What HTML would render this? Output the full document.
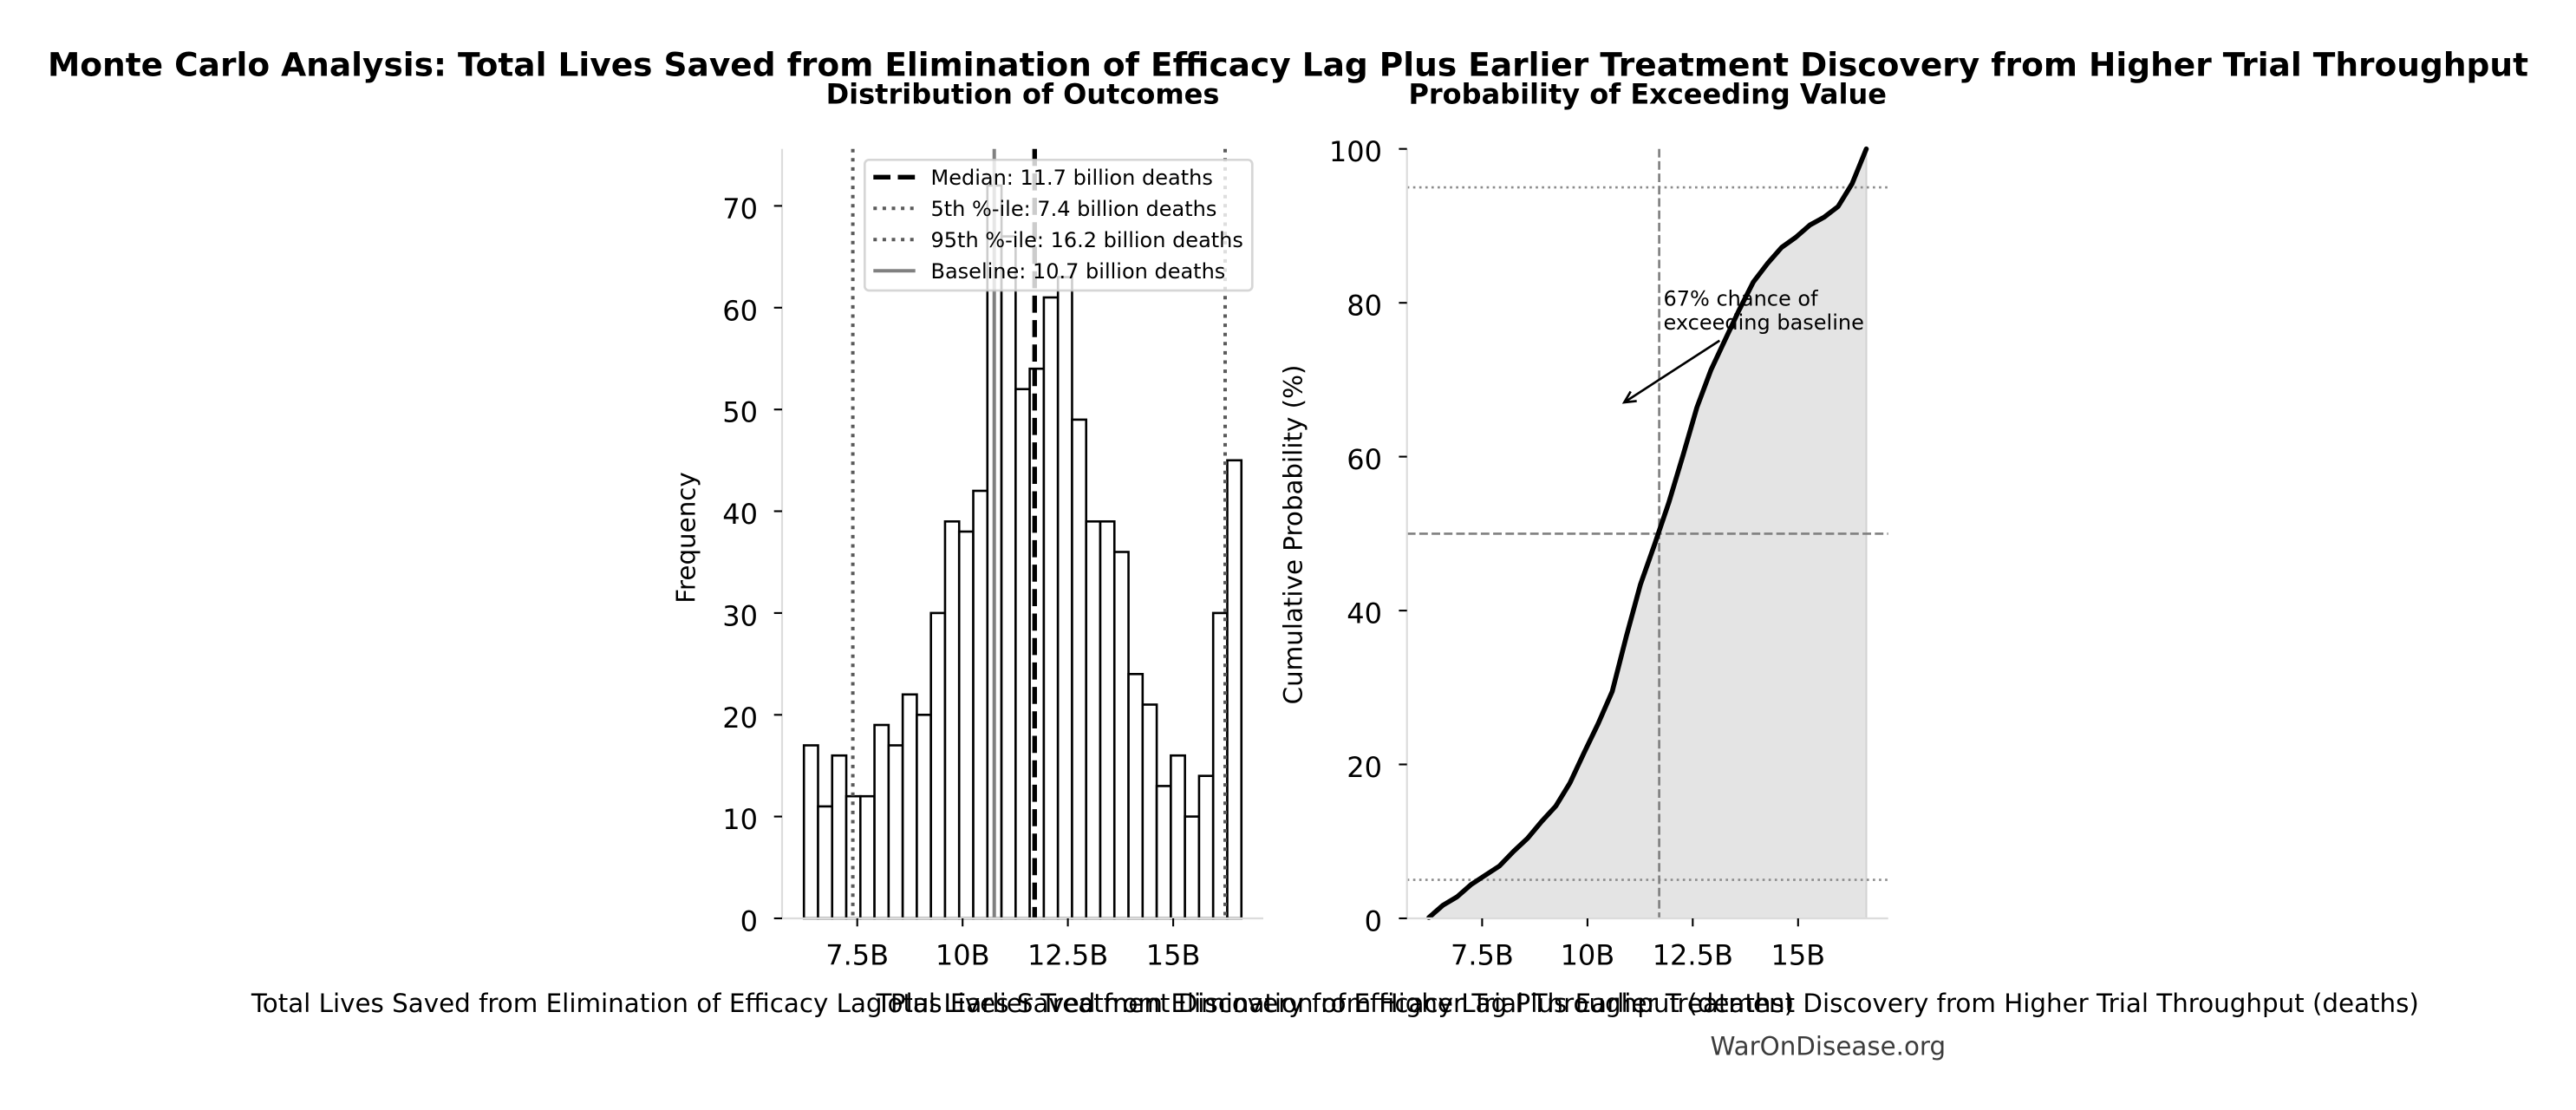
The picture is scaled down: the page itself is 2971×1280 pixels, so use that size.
<!DOCTYPE html>
<html>
<head>
<meta charset="utf-8">
<style>
  html, body { margin: 0; padding: 0; background: #ffffff; }
  svg { display: block; }
  text { font-family: "DejaVu Sans", "Liberation Sans", sans-serif; fill: #000; }
  .tick { font-size: 32px; }
  .lab { font-size: 29.33px; }
  .leg { font-size: 24px; }
  .ttl { font-size: 32px; font-weight: bold; }
</style>
</head>
<body>
<svg width="2971" height="1280" viewBox="0 0 2971 1280" xmlns="http://www.w3.org/2000/svg">
  <rect x="0" y="0" width="2971" height="1280" fill="#ffffff"/>

  <!-- Suptitle -->
  <text x="1485.5" y="87.5" text-anchor="middle" style="font-size:37.5px;font-weight:bold;">Monte Carlo Analysis: Total Lives Saved from Elimination of Efficacy Lag Plus Earlier Treatment Discovery from Higher Trial Throughput</text>

  <!-- Subplot titles -->
  <text class="ttl" x="1179.5" y="119.3" text-anchor="middle">Distribution of Outcomes</text>
  <text class="ttl" x="1900.2" y="119.3" text-anchor="middle">Probability of Exceeding Value</text>

  <!-- ================= LEFT AXES (histogram) ================= -->
  <g stroke="#000" stroke-width="2.6" fill="#ffffff">
    <rect x="927.20" y="859.5" width="16.28" height="199.5"/>
    <rect x="943.48" y="929.9" width="16.28" height="129.1"/>
    <rect x="959.75" y="871.2" width="16.28" height="187.8"/>
    <rect x="976.03" y="918.2" width="16.28" height="140.8"/>
    <rect x="992.30" y="918.2" width="16.28" height="140.8"/>
    <rect x="1008.58" y="836.0" width="16.28" height="223.0"/>
    <rect x="1024.86" y="859.5" width="16.28" height="199.5"/>
    <rect x="1041.13" y="800.8" width="16.28" height="258.2"/>
    <rect x="1057.41" y="824.3" width="16.28" height="234.7"/>
    <rect x="1073.68" y="706.9" width="16.28" height="352.1"/>
    <rect x="1089.96" y="601.3" width="16.28" height="457.7"/>
    <rect x="1106.24" y="613.0" width="16.28" height="446.0"/>
    <rect x="1122.51" y="566.0" width="16.28" height="493.0"/>
    <rect x="1138.79" y="213.9" width="16.28" height="845.1"/>
    <rect x="1155.06" y="272.6" width="16.28" height="786.4"/>
    <rect x="1171.34" y="448.7" width="16.28" height="610.3"/>
    <rect x="1187.62" y="425.2" width="16.28" height="633.8"/>
    <rect x="1203.89" y="343.0" width="16.28" height="716.0"/>
    <rect x="1220.17" y="319.6" width="16.28" height="739.4"/>
    <rect x="1236.44" y="483.9" width="16.28" height="575.1"/>
    <rect x="1252.72" y="601.3" width="16.28" height="457.7"/>
    <rect x="1269.00" y="601.3" width="16.28" height="457.7"/>
    <rect x="1285.27" y="636.5" width="16.28" height="422.5"/>
    <rect x="1301.55" y="777.3" width="16.28" height="281.7"/>
    <rect x="1317.82" y="812.5" width="16.28" height="246.5"/>
    <rect x="1334.10" y="906.4" width="16.28" height="152.6"/>
    <rect x="1350.38" y="871.2" width="16.28" height="187.8"/>
    <rect x="1366.65" y="941.6" width="16.28" height="117.4"/>
    <rect x="1382.93" y="894.7" width="16.28" height="164.3"/>
    <rect x="1399.20" y="706.9" width="16.28" height="352.1"/>
    <rect x="1415.48" y="530.8" width="16.28" height="528.2"/>
  </g>

  <!-- vertical reference lines -->
  <line x1="1193.3" y1="171.7" x2="1193.3" y2="1059" stroke="#000" stroke-width="5.33" stroke-dasharray="19.7 8.5"/>
  <line x1="983.6" y1="171.7" x2="983.6" y2="1059" stroke="#5a5a5a" stroke-width="4" stroke-dasharray="4 6.6"/>
  <line x1="1413.0" y1="171.7" x2="1413.0" y2="1059" stroke="#5a5a5a" stroke-width="4" stroke-dasharray="4 6.6"/>
  <line x1="1146.7" y1="171.7" x2="1146.7" y2="1059" stroke="#808080" stroke-width="4"/>

  <!-- spines -->
  <line x1="902" y1="171.7" x2="902" y2="1060" stroke="#dcdcdc" stroke-width="2.2"/>
  <line x1="901" y1="1059" x2="1457" y2="1059" stroke="#dcdcdc" stroke-width="2.2"/>

  <!-- y ticks -->
  <g stroke="#000" stroke-width="2.1">
    <line x1="892.7" y1="1059" x2="902" y2="1059"/>
    <line x1="892.7" y1="941.6" x2="902" y2="941.6"/>
    <line x1="892.7" y1="824.3" x2="902" y2="824.3"/>
    <line x1="892.7" y1="706.9" x2="902" y2="706.9"/>
    <line x1="892.7" y1="589.5" x2="902" y2="589.5"/>
    <line x1="892.7" y1="472.2" x2="902" y2="472.2"/>
    <line x1="892.7" y1="354.8" x2="902" y2="354.8"/>
    <line x1="892.7" y1="237.4" x2="902" y2="237.4"/>
  </g>
  <g class="tick" text-anchor="end">
    <text x="874" y="1073.5">0</text>
    <text x="874" y="956.1">10</text>
    <text x="874" y="838.8">20</text>
    <text x="874" y="721.4">30</text>
    <text x="874" y="604.0">40</text>
    <text x="874" y="486.7">50</text>
    <text x="874" y="369.3">60</text>
    <text x="874" y="251.9">70</text>
  </g>

  <!-- x ticks -->
  <g stroke="#000" stroke-width="2.1">
    <line x1="988.7" y1="1059" x2="988.7" y2="1068.3"/>
    <line x1="1110.2" y1="1059" x2="1110.2" y2="1068.3"/>
    <line x1="1231.6" y1="1059" x2="1231.6" y2="1068.3"/>
    <line x1="1353.1" y1="1059" x2="1353.1" y2="1068.3"/>
  </g>
  <g class="tick" text-anchor="middle">
    <text x="988.7" y="1112.3">7.5B</text>
    <text x="1110.2" y="1112.3">10B</text>
    <text x="1231.6" y="1112.3">12.5B</text>
    <text x="1353.1" y="1112.3">15B</text>
  </g>

  <!-- y label -->
  <text class="lab" transform="translate(801.5,620) rotate(-90)" text-anchor="middle">Frequency</text>

  <!-- legend -->
  <rect x="997.3" y="184.3" width="447" height="150.7" rx="5" ry="5" fill="#ffffff" fill-opacity="0.8" stroke="#cccccc" stroke-opacity="0.8" stroke-width="2.67"/>
  <line x1="1007.3" y1="204.3" x2="1055.7" y2="204.3" stroke="#000" stroke-width="5.33" stroke-dasharray="19.7 8.5"/>
  <line x1="1007.3" y1="240.2" x2="1055.7" y2="240.2" stroke="#5a5a5a" stroke-width="4" stroke-dasharray="4 6.6"/>
  <line x1="1007.3" y1="276.2" x2="1055.7" y2="276.2" stroke="#5a5a5a" stroke-width="4" stroke-dasharray="4 6.6"/>
  <line x1="1007.3" y1="312.3" x2="1055.7" y2="312.3" stroke="#808080" stroke-width="4"/>
  <g class="leg">
    <text x="1073.5" y="213.0">Median: 11.7 billion deaths</text>
    <text x="1073.5" y="249.0">5th %-ile: 7.4 billion deaths</text>
    <text x="1073.5" y="285.0">95th %-ile: 16.2 billion deaths</text>
    <text x="1073.5" y="321.2">Baseline: 10.7 billion deaths</text>
  </g>

  <!-- x label left -->
  <text class="lab" x="1179.5" y="1167" text-anchor="middle">Total Lives Saved from Elimination of Efficacy Lag Plus Earlier Treatment Discovery from Higher Trial Throughput (deaths)</text>

  <!-- ================= RIGHT AXES (CDF) ================= -->
  <path d="M1647.9,1059 L1647.9,1058.1 L1664.2,1043.9 L1680.5,1034.2 L1696.7,1020.0 L1713.0,1009.3 L1729.3,998.7 L1745.6,981.8 L1761.8,966.7 L1778.1,947.2 L1794.4,929.5 L1810.7,902.8 L1826.9,868.2 L1843.2,834.5 L1859.5,797.2 L1875.8,733.4 L1892.0,673.9 L1908.3,627.8 L1924.6,579.9 L1940.9,525.7 L1957.1,469.8 L1973.4,426.4 L1989.7,391.7 L2006.0,357.1 L2022.2,325.2 L2038.5,303.9 L2054.8,285.3 L2071.1,273.7 L2087.4,259.5 L2103.6,250.6 L2119.9,238.2 L2136.2,211.6 L2152.5,171.7 L2152.5,1059 Z" fill="#e4e4e4" stroke="none"/>
  <line x1="2152.5" y1="171.7" x2="2152.5" y2="1059" stroke="#d2d2d2" stroke-width="2"/>

  <!-- reference lines -->
  <line x1="1622.7" y1="216.1" x2="2177.7" y2="216.1" stroke="#8c8c8c" stroke-width="2.67" stroke-dasharray="2.67 4.4"/>
  <line x1="1622.7" y1="1014.6" x2="2177.7" y2="1014.6" stroke="#8c8c8c" stroke-width="2.67" stroke-dasharray="2.67 4.4"/>
  <line x1="1622.7" y1="615.4" x2="2177.7" y2="615.4" stroke="#808080" stroke-width="2.67" stroke-dasharray="9.9 4.3"/>
  <line x1="1913.6" y1="171.7" x2="1913.6" y2="1059" stroke="#808080" stroke-width="2.67" stroke-dasharray="9.9 4.3"/>

  <!-- curve -->
  <polyline points="1647.9,1058.1 1664.2,1043.9 1680.5,1034.2 1696.7,1020.0 1713.0,1009.3 1729.3,998.7 1745.6,981.8 1761.8,966.7 1778.1,947.2 1794.4,929.5 1810.7,902.8 1826.9,868.2 1843.2,834.5 1859.5,797.2 1875.8,733.4 1892.0,673.9 1908.3,627.8 1924.6,579.9 1940.9,525.7 1957.1,469.8 1973.4,426.4 1989.7,391.7 2006.0,357.1 2022.2,325.2 2038.5,303.9 2054.8,285.3 2071.1,273.7 2087.4,259.5 2103.6,250.6 2119.9,238.2 2136.2,211.6 2152.5,171.7" fill="none" stroke="#000" stroke-width="5.6" stroke-linejoin="round" stroke-linecap="round"/>

  <!-- spines -->
  <line x1="1622.7" y1="171.7" x2="1622.7" y2="1060" stroke="#dcdcdc" stroke-width="2.2"/>
  <line x1="1621.7" y1="1059" x2="2177.7" y2="1059" stroke="#dcdcdc" stroke-width="2.2"/>

  <!-- y ticks -->
  <g stroke="#000" stroke-width="2.1">
    <line x1="1613.4" y1="1059" x2="1622.7" y2="1059"/>
    <line x1="1613.4" y1="881.5" x2="1622.7" y2="881.5"/>
    <line x1="1613.4" y1="704.1" x2="1622.7" y2="704.1"/>
    <line x1="1613.4" y1="526.6" x2="1622.7" y2="526.6"/>
    <line x1="1613.4" y1="349.2" x2="1622.7" y2="349.2"/>
    <line x1="1613.4" y1="171.7" x2="1622.7" y2="171.7"/>
  </g>
  <g class="tick" text-anchor="end">
    <text x="1594" y="1073.5">0</text>
    <text x="1594" y="896.0">20</text>
    <text x="1594" y="718.6">40</text>
    <text x="1594" y="541.1">60</text>
    <text x="1594" y="363.7">80</text>
    <text x="1594" y="186.2">100</text>
  </g>

  <!-- x ticks -->
  <g stroke="#000" stroke-width="2.1">
    <line x1="1709.4" y1="1059" x2="1709.4" y2="1068.3"/>
    <line x1="1830.9" y1="1059" x2="1830.9" y2="1068.3"/>
    <line x1="1952.3" y1="1059" x2="1952.3" y2="1068.3"/>
    <line x1="2073.8" y1="1059" x2="2073.8" y2="1068.3"/>
  </g>
  <g class="tick" text-anchor="middle">
    <text x="1709.4" y="1112.3">7.5B</text>
    <text x="1830.9" y="1112.3">10B</text>
    <text x="1952.3" y="1112.3">12.5B</text>
    <text x="2073.8" y="1112.3">15B</text>
  </g>

  <!-- y label -->
  <text class="lab" transform="translate(1501.7,616.5) rotate(-90)" text-anchor="middle">Cumulative Probability (%)</text>

  <!-- annotation -->
  <text class="leg" x="1918.5" y="352.7">67% chance of</text>
  <text class="leg" x="1918.5" y="380.0">exceeding baseline</text>
  <line x1="1983.3" y1="392.7" x2="1873.3" y2="464" stroke="#000" stroke-width="2.67"/>
  <polyline points="1887.7,462.4 1873.3,464 1880.7,451.4" fill="none" stroke="#000" stroke-width="2.67" stroke-linejoin="miter"/>

  <!-- x label right -->
  <text class="lab" x="1900.2" y="1167" text-anchor="middle">Total Lives Saved from Elimination of Efficacy Lag Plus Earlier Treatment Discovery from Higher Trial Throughput (deaths)</text>

  <!-- watermark -->
  <text class="lab" x="2108.3" y="1216.7" text-anchor="middle" style="fill:#3c3c3c;">WarOnDisease.org</text>
</svg>
</body>
</html>
